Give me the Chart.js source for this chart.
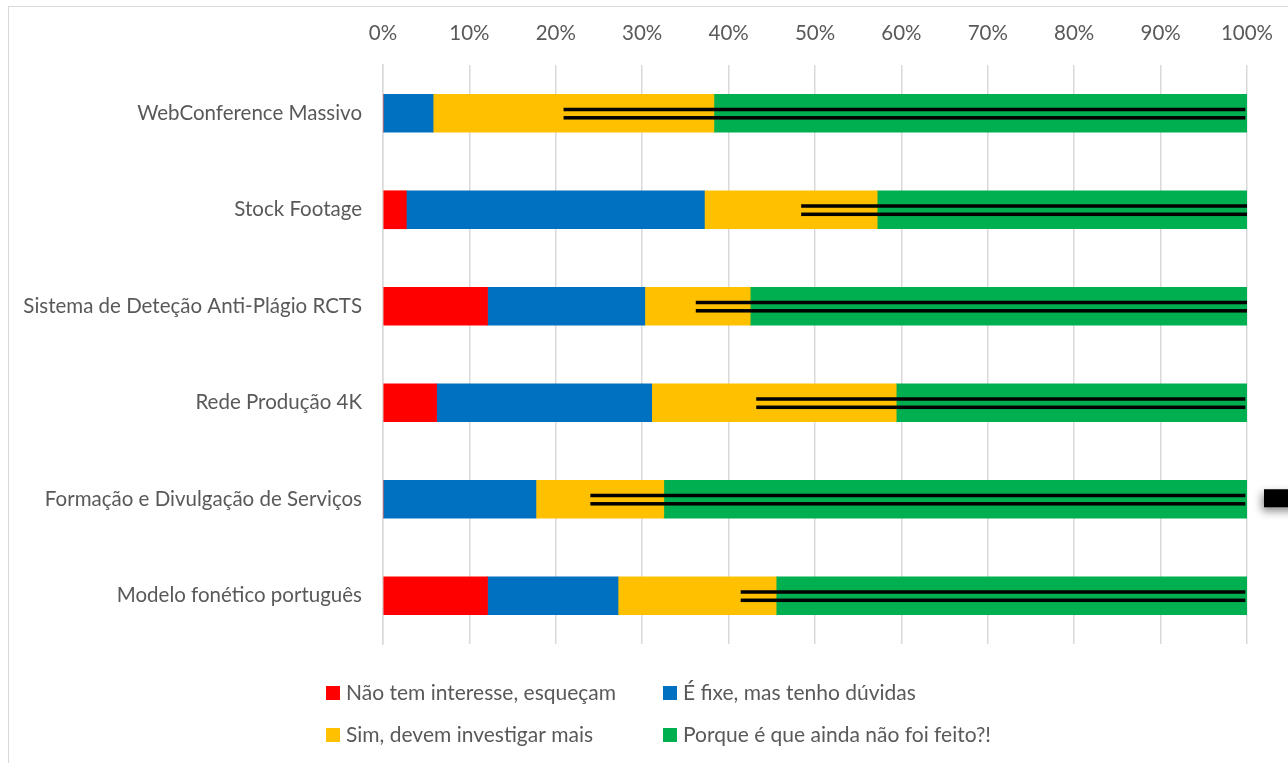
<!DOCTYPE html>
<html>
<head>
<meta charset="utf-8">
<script src="https://cdn.jsdelivr.net/npm/chart.js@4/dist/chart.umd.min.js"></script>
<style>
    body { margin: 0; background: #fff; }
    #chart { display: block; }
</style>
</head>
<body>
<canvas id="chart" width="1288" height="763"></canvas>
<script>
// Categories and series (percent of answers per topic)
const categories = [
    'WebConference Massivo',
    'Stock Footage',
    'Sistema de Deteção Anti-Plágio RCTS',
    'Rede Produção 4K',
    'Formação e Divulgação de Serviços',
    'Modelo fonético português'
];
const seriesLabels = [
    'Não tem interesse, esqueçam',
    'É fixe, mas tenho dúvidas',
    'Sim, devem investigar mais',
    'Porque é que ainda não foi feito?!'
];
const naoInteresse = [0, 2.7, 12.1, 6.2, 0, 12.1];
const fixeDuvidas = [5.8, 34.5, 18.2, 24.9, 17.7, 15.1];
const simInvestigar = [32.5, 20.0, 12.2, 28.3, 14.8, 18.3];
const porqueNao = [61.7, 42.8, 57.5, 40.6, 67.5, 54.5];

// Black double lines drawn over each bar (start / end in %)
const lineStart = [20.9, 48.4, 36.2, 43.2, 24.0, 41.4];
const lineEnd = [99.8, 100, 100, 99.8, 99.8, 99.8];

const xTicks = [0, 10, 20, 30, 40, 50, 60, 70, 80, 90, 100];

const colors = ['#FF0000', '#0070C0', '#FFC000', '#00B050'];
const textColor = '#595959';
const fontFamily = 'Lato, "Noto Sans", sans-serif';

// Outer frame of the chart object
const framePlugin = {
    id: 'frame',
    beforeDraw(chart) {
        const ctx = chart.ctx;
        ctx.save();
        ctx.fillStyle = '#fff';
        ctx.fillRect(0, 0, chart.width, chart.height);
        ctx.strokeStyle = '#d9d9d9';
        ctx.lineWidth = 1;
        ctx.strokeRect(8.5, 6.5, chart.width + 20, chart.height + 20);
        ctx.restore();
    }
};

// Double black lines over the bars + the black marker on the right
const overlayPlugin = {
    id: 'overlay',
    afterDatasetsDraw(chart) {
        const ctx = chart.ctx;
        const x = chart.scales.x;
        const y = chart.scales.y;
        ctx.save();
        ctx.fillStyle = '#000';
        for (let i = 0; i < categories.length; i++) {
            const cy = y.getPixelForValue(i);
            const x0 = x.getPixelForValue(lineStart[i]);
            const x1 = x.getPixelForValue(lineEnd[i]);
            ctx.fillRect(x0, cy - 5.5, x1 - x0, 3.5);
            ctx.fillRect(x0, cy + 2.8, x1 - x0, 3.5);
        }

        // marker beside "Formação e Divulgação de Serviços"
        const my = y.getPixelForValue(4);
        ctx.shadowColor = 'rgba(0,0,0,0.45)';
        ctx.shadowBlur = 8;
        ctx.shadowOffsetX = -2;
        ctx.shadowOffsetY = 4;
        ctx.fillRect(chart.chartArea.right + 17, my - 10, 60, 18);
        ctx.restore();
    }
};

// Two-column legend at the bottom
const legendPlugin = {
    id: 'gridLegend',
    afterDraw(chart) {
        const ctx = chart.ctx;
        const colX = [326, 663];
        const rowY = [693, 735];
        ctx.save();
        ctx.font = '21px ' + fontFamily;
        ctx.textBaseline = 'middle';
        ctx.textAlign = 'left';
        chart.data.datasets.forEach((ds, i) => {
            const bx = colX[i % 2];
            const by = rowY[Math.floor(i / 2)];
            ctx.fillStyle = ds.backgroundColor;
            ctx.fillRect(bx, by - 7, 14, 14);
            ctx.fillStyle = textColor;
            ctx.fillText(ds.label, bx + 20, by);
        });
        ctx.restore();
    }
};

const seriesData = [naoInteresse, fixeDuvidas, simInvestigar, porqueNao];

new Chart(document.getElementById('chart'), {
    type: 'bar',
    data: {
        labels: categories,
        datasets: seriesData.map((d, i) => ({
            label: seriesLabels[i],
            data: d,
            backgroundColor: colors[i],
            borderWidth: 0,
            barThickness: 38
        }))
    },
    options: {
        indexAxis: 'y',
        responsive: false,
        devicePixelRatio: 1,
        animation: false,
        layout: {
            padding: { left: 0, top: 0, right: 41, bottom: 119 }
        },
        plugins: {
            legend: { display: false },
            tooltip: { enabled: false }
        },
        scales: {
            x: {
                position: 'top',
                stacked: true,
                min: 0,
                max: 100,
                afterFit(scale) {
                    scale.height = 65;
                    scale.paddingLeft = 0;
                    scale.paddingRight = 0;
                },
                afterBuildTicks(scale) {
                    scale.ticks = xTicks.map(v => ({ value: v }));
                },
                ticks: {
                    padding: 19,
                    color: textColor,
                    font: { family: fontFamily, size: 20.5 },
                    callback: v => v + '%'
                },
                grid: {
                    color: '#d9d9d9',
                    lineWidth: 1.5,
                    drawTicks: false
                },
                border: { display: false }
            },
            y: {
                stacked: true,
                afterFit(scale) { scale.width = 383; },
                ticks: {
                    padding: 21,
                    color: textColor,
                    font: { family: fontFamily, size: 20.5 }
                },
                grid: { display: false, drawTicks: false },
                border: { display: true, color: '#d9d9d9', width: 1.5 }
            }
        }
    },
    plugins: [framePlugin, overlayPlugin, legendPlugin]
});
</script>
</body>
</html>
